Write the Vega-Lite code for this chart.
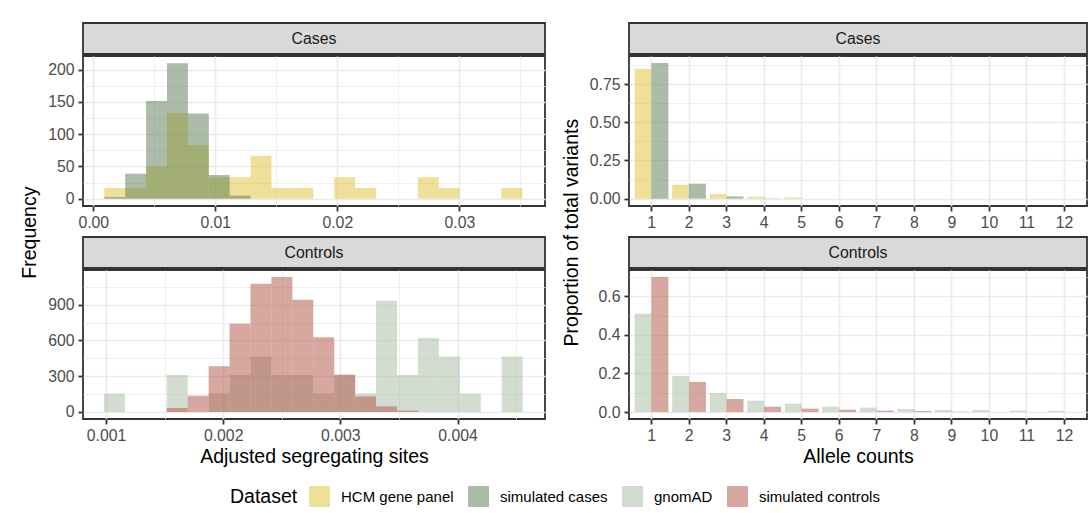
{
  "$schema": "https://vega.github.io/schema/vega-lite/v6.json",
  "padding": {"left": 20, "top": 22, "right": 0, "bottom": 0},
  "background": "white",
  "datasets": {
    "hist": [
      {"panel": "Cases", "dataset": "HCM gene panel", "bin_start": 0.000905, "bin_end": 0.002618, "count": 16.6},
      {"panel": "Cases", "dataset": "HCM gene panel", "bin_start": 0.002618, "bin_end": 0.004331, "count": 16.6},
      {"panel": "Cases", "dataset": "HCM gene panel", "bin_start": 0.004331, "bin_end": 0.006044, "count": 49.8},
      {"panel": "Cases", "dataset": "HCM gene panel", "bin_start": 0.006044, "bin_end": 0.007757, "count": 132.8},
      {"panel": "Cases", "dataset": "HCM gene panel", "bin_start": 0.007757, "bin_end": 0.00947, "count": 83},
      {"panel": "Cases", "dataset": "HCM gene panel", "bin_start": 0.00947, "bin_end": 0.011183, "count": 33.2},
      {"panel": "Cases", "dataset": "HCM gene panel", "bin_start": 0.011183, "bin_end": 0.012896, "count": 33.2},
      {"panel": "Cases", "dataset": "HCM gene panel", "bin_start": 0.012896, "bin_end": 0.014609, "count": 66.4},
      {"panel": "Cases", "dataset": "HCM gene panel", "bin_start": 0.014609, "bin_end": 0.016322, "count": 16.6},
      {"panel": "Cases", "dataset": "HCM gene panel", "bin_start": 0.016322, "bin_end": 0.018035, "count": 16.6},
      {"panel": "Cases", "dataset": "HCM gene panel", "bin_start": 0.019748, "bin_end": 0.021461, "count": 33.2},
      {"panel": "Cases", "dataset": "HCM gene panel", "bin_start": 0.021461, "bin_end": 0.023174, "count": 16.6},
      {"panel": "Cases", "dataset": "HCM gene panel", "bin_start": 0.0266, "bin_end": 0.028313, "count": 33.2},
      {"panel": "Cases", "dataset": "HCM gene panel", "bin_start": 0.028313, "bin_end": 0.030026, "count": 16.6},
      {"panel": "Cases", "dataset": "HCM gene panel", "bin_start": 0.033452, "bin_end": 0.035165, "count": 16.6},
      {"panel": "Cases", "dataset": "simulated cases", "bin_start": 0.000905, "bin_end": 0.002618, "count": 2.5},
      {"panel": "Cases", "dataset": "simulated cases", "bin_start": 0.002618, "bin_end": 0.004331, "count": 38.7},
      {"panel": "Cases", "dataset": "simulated cases", "bin_start": 0.004331, "bin_end": 0.006044, "count": 151.5},
      {"panel": "Cases", "dataset": "simulated cases", "bin_start": 0.006044, "bin_end": 0.007757, "count": 209.8},
      {"panel": "Cases", "dataset": "simulated cases", "bin_start": 0.007757, "bin_end": 0.00947, "count": 132},
      {"panel": "Cases", "dataset": "simulated cases", "bin_start": 0.00947, "bin_end": 0.011183, "count": 36.6},
      {"panel": "Cases", "dataset": "simulated cases", "bin_start": 0.011183, "bin_end": 0.012896, "count": 4.6},
      {"panel": "Controls", "dataset": "gnomAD", "bin_start": 0.000983, "bin_end": 0.0011616, "count": 155},
      {"panel": "Controls", "dataset": "gnomAD", "bin_start": 0.0015188, "bin_end": 0.0016974, "count": 310},
      {"panel": "Controls", "dataset": "gnomAD", "bin_start": 0.001876, "bin_end": 0.0020546, "count": 155},
      {"panel": "Controls", "dataset": "gnomAD", "bin_start": 0.0020546, "bin_end": 0.0022332, "count": 310},
      {"panel": "Controls", "dataset": "gnomAD", "bin_start": 0.0022332, "bin_end": 0.0024118, "count": 466},
      {"panel": "Controls", "dataset": "gnomAD", "bin_start": 0.0024118, "bin_end": 0.0025904, "count": 310},
      {"panel": "Controls", "dataset": "gnomAD", "bin_start": 0.0025904, "bin_end": 0.002769, "count": 310},
      {"panel": "Controls", "dataset": "gnomAD", "bin_start": 0.002769, "bin_end": 0.0029476, "count": 155},
      {"panel": "Controls", "dataset": "gnomAD", "bin_start": 0.0029476, "bin_end": 0.0031262, "count": 310},
      {"panel": "Controls", "dataset": "gnomAD", "bin_start": 0.0031262, "bin_end": 0.0033048, "count": 155},
      {"panel": "Controls", "dataset": "gnomAD", "bin_start": 0.0033048, "bin_end": 0.0034834, "count": 932},
      {"panel": "Controls", "dataset": "gnomAD", "bin_start": 0.0034834, "bin_end": 0.003662, "count": 310},
      {"panel": "Controls", "dataset": "gnomAD", "bin_start": 0.003662, "bin_end": 0.0038406, "count": 621},
      {"panel": "Controls", "dataset": "gnomAD", "bin_start": 0.0038406, "bin_end": 0.0040192, "count": 466},
      {"panel": "Controls", "dataset": "gnomAD", "bin_start": 0.0040192, "bin_end": 0.0041978, "count": 155},
      {"panel": "Controls", "dataset": "gnomAD", "bin_start": 0.0043764, "bin_end": 0.004555, "count": 466},
      {"panel": "Controls", "dataset": "simulated controls", "bin_start": 0.0015188, "bin_end": 0.0016974, "count": 33.5},
      {"panel": "Controls", "dataset": "simulated controls", "bin_start": 0.0016974, "bin_end": 0.001876, "count": 137},
      {"panel": "Controls", "dataset": "simulated controls", "bin_start": 0.001876, "bin_end": 0.0020546, "count": 383},
      {"panel": "Controls", "dataset": "simulated controls", "bin_start": 0.0020546, "bin_end": 0.0022332, "count": 741},
      {"panel": "Controls", "dataset": "simulated controls", "bin_start": 0.0022332, "bin_end": 0.0024118, "count": 1076},
      {"panel": "Controls", "dataset": "simulated controls", "bin_start": 0.0024118, "bin_end": 0.0025904, "count": 1132},
      {"panel": "Controls", "dataset": "simulated controls", "bin_start": 0.0025904, "bin_end": 0.002769, "count": 942},
      {"panel": "Controls", "dataset": "simulated controls", "bin_start": 0.002769, "bin_end": 0.0029476, "count": 626},
      {"panel": "Controls", "dataset": "simulated controls", "bin_start": 0.0029476, "bin_end": 0.0031262, "count": 313},
      {"panel": "Controls", "dataset": "simulated controls", "bin_start": 0.0031262, "bin_end": 0.0033048, "count": 131},
      {"panel": "Controls", "dataset": "simulated controls", "bin_start": 0.0033048, "bin_end": 0.0034834, "count": 47.5},
      {"panel": "Controls", "dataset": "simulated controls", "bin_start": 0.0034834, "bin_end": 0.003662, "count": 11}
    ],
    "allele": [
      {"panel": "Cases", "dataset": "HCM gene panel", "allele": 1, "prop": 0.85},
      {"panel": "Cases", "dataset": "HCM gene panel", "allele": 2, "prop": 0.0916},
      {"panel": "Cases", "dataset": "HCM gene panel", "allele": 3, "prop": 0.0305},
      {"panel": "Cases", "dataset": "HCM gene panel", "allele": 4, "prop": 0.013},
      {"panel": "Cases", "dataset": "HCM gene panel", "allele": 5, "prop": 0.0087},
      {"panel": "Cases", "dataset": "simulated cases", "allele": 1, "prop": 0.887},
      {"panel": "Cases", "dataset": "simulated cases", "allele": 2, "prop": 0.098},
      {"panel": "Cases", "dataset": "simulated cases", "allele": 3, "prop": 0.015},
      {"panel": "Cases", "dataset": "simulated cases", "allele": 4, "prop": 0.002},
      {"panel": "Controls", "dataset": "gnomAD", "allele": 1, "prop": 0.51},
      {"panel": "Controls", "dataset": "gnomAD", "allele": 2, "prop": 0.188},
      {"panel": "Controls", "dataset": "gnomAD", "allele": 3, "prop": 0.0986},
      {"panel": "Controls", "dataset": "gnomAD", "allele": 4, "prop": 0.0588},
      {"panel": "Controls", "dataset": "gnomAD", "allele": 5, "prop": 0.0432},
      {"panel": "Controls", "dataset": "gnomAD", "allele": 6, "prop": 0.0277},
      {"panel": "Controls", "dataset": "gnomAD", "allele": 7, "prop": 0.0225},
      {"panel": "Controls", "dataset": "gnomAD", "allele": 8, "prop": 0.0156},
      {"panel": "Controls", "dataset": "gnomAD", "allele": 9, "prop": 0.0104},
      {"panel": "Controls", "dataset": "gnomAD", "allele": 10, "prop": 0.0104},
      {"panel": "Controls", "dataset": "gnomAD", "allele": 11, "prop": 0.0069},
      {"panel": "Controls", "dataset": "gnomAD", "allele": 12, "prop": 0.0052},
      {"panel": "Controls", "dataset": "simulated controls", "allele": 1, "prop": 0.7},
      {"panel": "Controls", "dataset": "simulated controls", "allele": 2, "prop": 0.156},
      {"panel": "Controls", "dataset": "simulated controls", "allele": 3, "prop": 0.0674},
      {"panel": "Controls", "dataset": "simulated controls", "allele": 4, "prop": 0.0277},
      {"panel": "Controls", "dataset": "simulated controls", "allele": 5, "prop": 0.0173},
      {"panel": "Controls", "dataset": "simulated controls", "allele": 6, "prop": 0.0121},
      {"panel": "Controls", "dataset": "simulated controls", "allele": 7, "prop": 0.0069},
      {"panel": "Controls", "dataset": "simulated controls", "allele": 8, "prop": 0.0052},
      {"panel": "Controls", "dataset": "simulated controls", "allele": 9, "prop": 0.0015}
    ]
  },
  "config": {
    "font": "Liberation Sans",
    "view": {"stroke": "#333333", "strokeWidth": 1.8},
    "axis": {
      "domain": false,
      "labelFont": "Liberation Sans",
      "labelFontSize": 15.8,
      "labelColor": "#4d4d4d",
      "tickColor": "#333333",
      "tickSize": 5,
      "tickWidth": 1.8,
      "labelPadding": 4,
      "gridColor": "#ebebeb",
      "gridWidth": 1.6,
      "titleFont": "Liberation Sans",
      "titleFontSize": 19.5,
      "titleFontWeight": "normal",
      "titleColor": "#000000",
      "titlePadding": 5
    },
    "title": {"font": "Liberation Sans", "fontSize": 19.5, "fontWeight": "normal", "color": "#000000"},
    "legend": {
      "titleFont": "Liberation Sans",
      "titleFontSize": 19.5,
      "titleFontWeight": "normal",
      "titleColor": "#000000",
      "labelFont": "Liberation Sans",
      "labelFontSize": 15,
      "labelColor": "#000000"
    }
  },
  "resolve": {"scale": {"xOffset": "independent"}},
  "spacing": 15,
  "hconcat": [
    {
      "title": {"text": "Frequency", "orient": "left", "anchor": "middle", "offset": 6, "dx": 12},
      "spacing": 5,
      "vconcat": [
        {
          "spacing": 0,
          "vconcat": [
            {
              "width": 462, "height": 31,
              "view": {"fill": "#d9d9d9", "stroke": "#333333", "strokeWidth": 1.8},
              "data": {"values": [{"strip": "Cases"}]},
              "mark": {"type": "text", "fontSize": 15.8, "color": "#1a1a1a"},
              "encoding": {"text": {"field": "strip", "type": "nominal"}}
            },
            {
              "width": 462, "height": 150,
              "data": {"name": "hist"},
              "transform": [{"filter": "datum.panel == 'Cases'"}],
              "mark": {"type": "bar", "opacity": 0.5},
              "encoding": {
                "x": {
                  "field": "bin_start", "type": "quantitative",
                  "scale": {"domain": [-0.00084, 0.03702], "nice": false, "zero": false},
                  "axis": {
                    "title": null,
                    "values": [0, 0.005, 0.01, 0.015, 0.02, 0.025, 0.03, 0.035],
                    "labelExpr": "abs(datum.value*100 - round(datum.value*100)) < 1e-6 ? format(datum.value, '.2f') : ''",
                    "tickOpacity": {"condition": {"test": "abs(datum.value*100 - round(datum.value*100)) < 1e-6", "value": 1}, "value": 0},
                    "gridWidth": {"condition": {"test": "abs(datum.value*100 - round(datum.value*100)) < 1e-6", "value": 1.6}, "value": 0.8}
                  }
                },
                "x2": {"field": "bin_end"},
                "y": {
                  "field": "count", "type": "quantitative",
                  "scale": {"domain": [-11.4, 221.2], "nice": false, "zero": false},
                  "axis": {
                    "title": null,
                    "values": [0, 25, 50, 75, 100, 125, 150, 175, 200],
                    "labelExpr": "datum.value % 50 == 0 ? format(datum.value, 'd') : ''",
                    "tickOpacity": {"condition": {"test": "datum.value % 50 == 0", "value": 1}, "value": 0},
                    "gridWidth": {"condition": {"test": "datum.value % 50 == 0", "value": 1.6}, "value": 0.8}
                  }
                },
                "y2": {"datum": 0},
                "color": {
                  "field": "dataset", "type": "nominal",
                  "scale": {"domain": ["HCM gene panel", "simulated cases", "gnomAD", "simulated controls"], "range": ["#ddc131", "#577b51", "#a5bb9f", "#ad5141"]},
                  "legend": {
                    "title": "Dataset", "orient": "none", "legendX": 147, "legendY": 463,
                    "direction": "horizontal", "titleOrient": "left", "titlePadding": 11,
                    "symbolType": "square", "symbolSize": 441, "symbolOpacity": 0.5, "symbolStrokeWidth": 0,
                    "labelOffset": 11, "columnPadding": 14
                  }
                }
              }
            }
          ]
        },
        {
          "spacing": 0,
          "vconcat": [
            {
              "width": 462, "height": 31,
              "view": {"fill": "#d9d9d9", "stroke": "#333333", "strokeWidth": 1.8},
              "data": {"values": [{"strip": "Controls"}]},
              "mark": {"type": "text", "fontSize": 15.8, "color": "#1a1a1a"},
              "encoding": {"text": {"field": "strip", "type": "nominal"}}
            },
            {
              "width": 462, "height": 149,
              "data": {"name": "hist"},
              "transform": [{"filter": "datum.panel == 'Controls'"}],
              "mark": {"type": "bar", "opacity": 0.5},
              "encoding": {
                "x": {
                  "field": "bin_start", "type": "quantitative",
                  "scale": {"domain": [0.000804, 0.004746], "nice": false, "zero": false},
                  "axis": {
                    "title": "Adjusted segregating sites",
                    "values": [0.001, 0.0015, 0.002, 0.0025, 0.003, 0.0035, 0.004, 0.0045],
                    "labelExpr": "abs(datum.value*1000 - round(datum.value*1000)) < 1e-6 ? format(datum.value, '.3f') : ''",
                    "tickOpacity": {"condition": {"test": "abs(datum.value*1000 - round(datum.value*1000)) < 1e-6", "value": 1}, "value": 0},
                    "gridWidth": {"condition": {"test": "abs(datum.value*1000 - round(datum.value*1000)) < 1e-6", "value": 1.6}, "value": 0.8}
                  }
                },
                "x2": {"field": "bin_end"},
                "y": {
                  "field": "count", "type": "quantitative",
                  "scale": {"domain": [-58.7, 1190.7], "nice": false, "zero": false},
                  "axis": {
                    "title": null,
                    "values": [0, 150, 300, 450, 600, 750, 900, 1050],
                    "labelExpr": "datum.value % 300 == 0 ? format(datum.value, 'd') : ''",
                    "tickOpacity": {"condition": {"test": "datum.value % 300 == 0", "value": 1}, "value": 0},
                    "gridWidth": {"condition": {"test": "datum.value % 300 == 0", "value": 1.6}, "value": 0.8}
                  }
                },
                "y2": {"datum": 0},
                "color": {"field": "dataset", "type": "nominal"}
              }
            }
          ]
        }
      ]
    },
    {
      "title": {"text": "Proportion of total variants", "orient": "left", "anchor": "middle", "offset": 6, "dx": 12},
      "spacing": 5,
      "resolve": {"scale": {"xOffset": "independent"}},
      "vconcat": [
        {
          "spacing": 0,
          "vconcat": [
            {
              "width": 458, "height": 31,
              "view": {"fill": "#d9d9d9", "stroke": "#333333", "strokeWidth": 1.8},
              "data": {"values": [{"strip": "Cases"}]},
              "mark": {"type": "text", "fontSize": 15.8, "color": "#1a1a1a"},
              "encoding": {"text": {"field": "strip", "type": "nominal"}}
            },
            {
              "width": 458, "height": 150,
              "data": {"name": "allele"},
              "transform": [{"filter": "datum.panel == 'Cases'"}],
              "mark": {"type": "bar", "opacity": 0.5},
              "encoding": {
                "x": {
                  "field": "allele", "type": "ordinal",
                  "scale": {"type": "band", "domain": [1,2,3,4,5,6,7,8,9,10,11,12], "paddingInner": 0.1, "paddingOuter": 0.15},
                  "axis": {"title": null, "labelAngle": 0, "bandPosition": 0.5, "grid": true}
                },
                "xOffset": {
                  "field": "dataset", "type": "nominal",
                  "scale": {"domain": ["HCM gene panel", "simulated cases"], "paddingInner": 0, "paddingOuter": 0}
                },
                "y": {
                  "field": "prop", "type": "quantitative",
                  "scale": {"domain": [-0.0479, 0.9333], "nice": false, "zero": false},
                  "axis": {
                    "title": null,
                    "values": [0, 0.125, 0.25, 0.375, 0.5, 0.625, 0.75, 0.875],
                    "labelExpr": "abs(datum.value*4 - round(datum.value*4)) < 1e-6 ? format(datum.value, '.2f') : ''",
                    "tickOpacity": {"condition": {"test": "abs(datum.value*4 - round(datum.value*4)) < 1e-6", "value": 1}, "value": 0},
                    "gridWidth": {"condition": {"test": "abs(datum.value*4 - round(datum.value*4)) < 1e-6", "value": 1.6}, "value": 0.8}
                  }
                },
                "y2": {"datum": 0},
                "color": {"field": "dataset", "type": "nominal"}
              }
            }
          ]
        },
        {
          "spacing": 0,
          "vconcat": [
            {
              "width": 458, "height": 31,
              "view": {"fill": "#d9d9d9", "stroke": "#333333", "strokeWidth": 1.8},
              "data": {"values": [{"strip": "Controls"}]},
              "mark": {"type": "text", "fontSize": 15.8, "color": "#1a1a1a"},
              "encoding": {"text": {"field": "strip", "type": "nominal"}}
            },
            {
              "width": 458, "height": 149,
              "data": {"name": "allele"},
              "transform": [{"filter": "datum.panel == 'Controls'"}],
              "mark": {"type": "bar", "opacity": 0.5},
              "encoding": {
                "x": {
                  "field": "allele", "type": "ordinal",
                  "scale": {"type": "band", "domain": [1,2,3,4,5,6,7,8,9,10,11,12], "paddingInner": 0.1, "paddingOuter": 0.15},
                  "axis": {"title": "Allele counts", "labelAngle": 0, "bandPosition": 0.5, "grid": true}
                },
                "xOffset": {
                  "field": "dataset", "type": "nominal",
                  "scale": {"domain": ["gnomAD", "simulated controls"], "paddingInner": 0, "paddingOuter": 0}
                },
                "y": {
                  "field": "prop", "type": "quantitative",
                  "scale": {"domain": [-0.0363, 0.7365], "nice": false, "zero": false},
                  "axis": {
                    "title": null,
                    "values": [0, 0.1, 0.2, 0.3, 0.4, 0.5, 0.6, 0.7],
                    "labelExpr": "abs(datum.value*5 - round(datum.value*5)) < 1e-6 ? format(datum.value, '.1f') : ''",
                    "tickOpacity": {"condition": {"test": "abs(datum.value*5 - round(datum.value*5)) < 1e-6", "value": 1}, "value": 0},
                    "gridWidth": {"condition": {"test": "abs(datum.value*5 - round(datum.value*5)) < 1e-6", "value": 1.6}, "value": 0.8}
                  }
                },
                "y2": {"datum": 0},
                "color": {"field": "dataset", "type": "nominal"}
              }
            }
          ]
        }
      ]
    }
  ]
}
